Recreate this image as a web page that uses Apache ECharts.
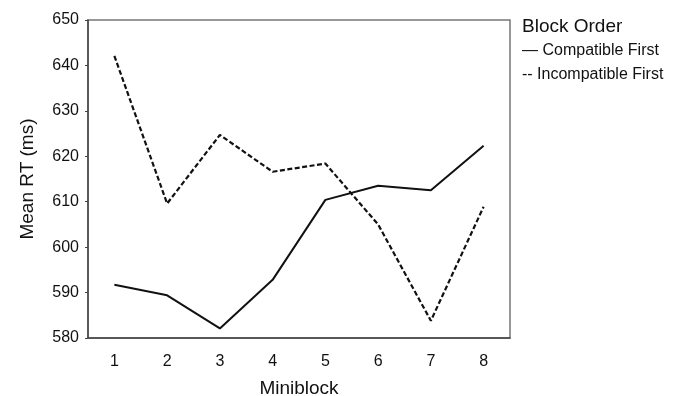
<!DOCTYPE html>
<html><head><meta charset="utf-8">
<script src="https://cdn.jsdelivr.net/npm/echarts@6/dist/echarts.min.js"></script>
<style>html,body{margin:0;padding:0;background:#fff}#c{width:692px;height:396px}</style>
</head><body><div id="c"></div>
<script>
const categories = ['1','2','3','4','5','6','7','8'];
const compatibleFirst = [591.7, 589.4, 582.1, 592.8, 610.4, 613.5, 612.5, 622.3];
const incompatibleFirst = [642.1, 609.6, 624.7, 616.6, 618.4, 605.0, 583.8, 608.9];
const yTicks = {min: 580, max: 650, interval: 10};
const legendTitle = 'Block Order';
const legendItems = ['— Compatible First', '-- Incompatible First'];

const font = 'Liberation Sans, Arial, sans-serif';
const chart = echarts.init(document.getElementById('c'));
chart.setOption({
  animation: false,
  grid: {left: 88, right: 182, top: 20, bottom: 58, outerBoundsMode: 'none', containLabel: false,
         show: true, borderColor: '#777', borderWidth: 1.5, backgroundColor: 'transparent'},
  xAxis: {
    type: 'category', data: categories, boundaryGap: true,
    name: 'Miniblock', nameLocation: 'middle', nameGap: 41,
    nameTextStyle: {fontFamily: font, fontSize: 19, color: '#111'},
    axisLine: {lineStyle: {color: '#444', width: 1.5}},
    axisTick: {show: false},
    axisLabel: {fontFamily: font, fontSize: 16, color: '#111', margin: 16}
  },
  yAxis: {
    type: 'value', min: yTicks.min, max: yTicks.max, interval: yTicks.interval,
    name: 'Mean RT (ms)', nameLocation: 'middle', nameGap: 51,
    nameTextStyle: {fontFamily: font, fontSize: 19, color: '#111'},
    axisLine: {show: true, lineStyle: {color: '#444', width: 1.5}},
    axisTick: {show: true, length: 3, lineStyle: {color: '#444'}},
    splitLine: {show: false},
    axisLabel: {fontFamily: font, fontSize: 16, color: '#111', margin: 9}
  },
  series: [
    {name: 'Compatible First', type: 'line', data: compatibleFirst, symbol: 'none',
     lineStyle: {color: '#111', width: 2, type: 'solid'}},
    {name: 'Incompatible First', type: 'line', data: incompatibleFirst, symbol: 'none',
     lineStyle: {color: '#111', width: 2.2, type: [5, 2.5]}}
  ],
  graphic: [
    {type: 'text', left: 522, top: 17, style: {text: legendTitle, fontFamily: font, fontSize: 19, fill: '#111'}},
    {type: 'text', left: 522, top: 43, style: {text: legendItems[0], fontFamily: font, fontSize: 16, fill: '#111'}},
    {type: 'text', left: 522, top: 67, style: {text: legendItems[1], fontFamily: font, fontSize: 16, fill: '#111'}}
  ]
});
</script></body></html>
